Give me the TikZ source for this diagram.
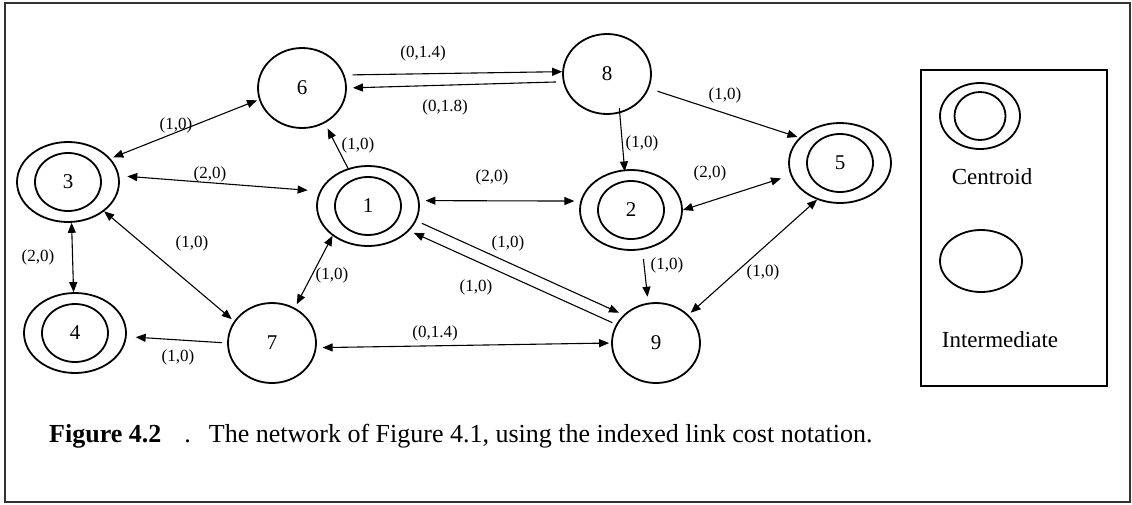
\documentclass[tikz,border=0pt]{standalone}
\usepackage{fontspec}
\setmainfont{Liberation Serif}
\usetikzlibrary{shapes.geometric,arrows.meta}
\tikzset{
  cent/.style={ellipse, draw, line width=1.8pt, minimum width=102pt, minimum height=80pt, inner sep=0pt, font=\fontsize{21pt}{24pt}\selectfont},
  centin/.style={ellipse, draw, line width=1.8pt, minimum width=66pt, minimum height=58pt, inner sep=0pt},
  inter/.style={ellipse, draw, line width=1.8pt, minimum width=88pt, minimum height=80pt, inner sep=0pt, font=\fontsize{21pt}{24pt}\selectfont},
  lab/.style={font=\fontsize{17pt}{20pt}\selectfont, inner sep=0pt},
  legtext/.style={font=\fontsize{23pt}{26pt}\selectfont, inner sep=0pt},
  arr/.style={line width=1.1pt, -{Triangle[length=10pt,width=8pt]}},
  darr/.style={line width=1.1pt, {Triangle[length=10pt,width=8pt]}-{Triangle[length=10pt,width=8pt]}},
}
\begin{document}
\begin{tikzpicture}[x=1pt,y=-1pt]
\useasboundingbox (0,0) rectangle (1132,504);
\draw[line width=1.5pt, black!80] (5,3) rectangle (1130,502);

% nodes
\node[cent] (n3) at (68,182) {3};
\node[centin] (n3i) at (n3) {};
\node[cent] (n4) at (75,333) {4};
\node[centin] (n4i) at (n4) {};
\node[cent] (n1) at (368,206) {1};
\node[centin] (n1i) at (n1) {};
\node[cent] (n2) at (631,210) {2};
\node[centin] (n2i) at (n2) {};
\node[cent] (n5) at (840,163) {5};
\node[centin] (n5i) at (n5) {};
\node[inter] (n6) at (302,88) {6};
\node[inter] (n8) at (607,74) {8};
\node[inter] (n7) at (272,343) {7};
\node[inter] (n9) at (656,343) {9};

% connectors
\draw[darr, shorten <=3pt, shorten >=2pt] (n3.29) -- (n6.195);
\draw[darr, shorten <=8pt, shorten >=12pt] (n3.7) -- (n1.163);
\draw[arr, shorten >=6pt] (n1.118) -- (n6.303);
\draw[arr, shorten <=8pt] (n6.17) -- (n8.177);
\draw[arr, shorten <=7pt, shorten >=6pt] (n8.190) -- (n6.0);
\draw[arr, shorten <=9pt, shorten >=2pt] (n8.341) -- (n5.148);
\draw[arr, shorten <=-5pt, shorten >=-2pt] (n8.288) -- (n2.99);
\draw[darr, shorten <=6pt, shorten >=6pt] (n1.6) -- (n2.170);
\draw[darr, shorten >=10pt] (n2.0) -- (n5.194);
\draw[arr, shorten <=6pt, shorten >=5pt] (n1.343) -- (n9.139);
\draw[arr, shorten <=4pt, shorten >=5pt] (n9.155) -- (n1.329);
\draw[arr, shorten <=9pt, shorten >=6pt] (n2.286) -- (n9.101);
\draw[darr, shorten >=3pt] (n5.238) -- (n9.41);
\draw[darr, shorten <=6pt, shorten >=2pt] (n7.354) -- (n9.180);
\draw[darr, shorten >=3pt] (n3.321) -- (n7.150);
\draw[darr] (n3.275) -- (n4.92);
\draw[darr, shorten >=4pt] (n1.220) -- (n7.57);
\draw[arr, shorten <=5pt, shorten >=9pt] (n7.180) -- (n4.356);

% labels
\node[lab] (l36) at (176,125) {(1,0)};
\node[lab] (l31) at (210,174) {(2,0)};
\node[lab] (l16) at (358,145) {(1,0)};
\node[lab] (l68) at (423,53) {(0,1.4)};
\node[lab] (l86) at (445,107) {(0,1.8)};
\node[lab] (l85) at (725,95) {(1,0)};
\node[lab] (l82) at (642,143) {(1,0)};
\node[lab] (l12) at (492,177) {(2,0)};
\node[lab] (l25) at (710,173) {(2,0)};
\node[lab] (l19) at (508,243) {(1,0)};
\node[lab] (l91) at (476,287) {(1,0)};
\node[lab] (l29) at (667,265) {(1,0)};
\node[lab] (l59) at (763,272) {(1,0)};
\node[lab] (l79) at (435,333) {(0,1.4)};
\node[lab] (l37) at (192,243) {(1,0)};
\node[lab] (l34) at (38,257) {(2,0)};
\node[lab] (l17) at (332,275) {(1,0)};
\node[lab] (l74) at (178,357) {(1,0)};

% legend
\draw[line width=2pt] (921,70) rectangle (1107,386);
\node[cent, minimum width=80pt, minimum height=66pt] (lc) at (980,116) {};
\node[centin, minimum width=51pt, minimum height=48pt] (lci) at (lc) {};
\node[legtext] (ltc) at (992,177) {Centroid};
\node[inter, minimum width=82pt, minimum height=62pt] (li) at (981,261) {};
\node[legtext] (lti) at (1000,340) {Intermediate};

% caption
\node[anchor=base west, inner sep=0pt, font=\fontsize{26pt}{30pt}\selectfont] (cap) at (49,442)
  {\textbf{Figure 4.2}\hspace{23pt}.\hspace{18pt}The network of Figure 4.1, using the indexed link cost notation.};
\end{tikzpicture}
\end{document}
